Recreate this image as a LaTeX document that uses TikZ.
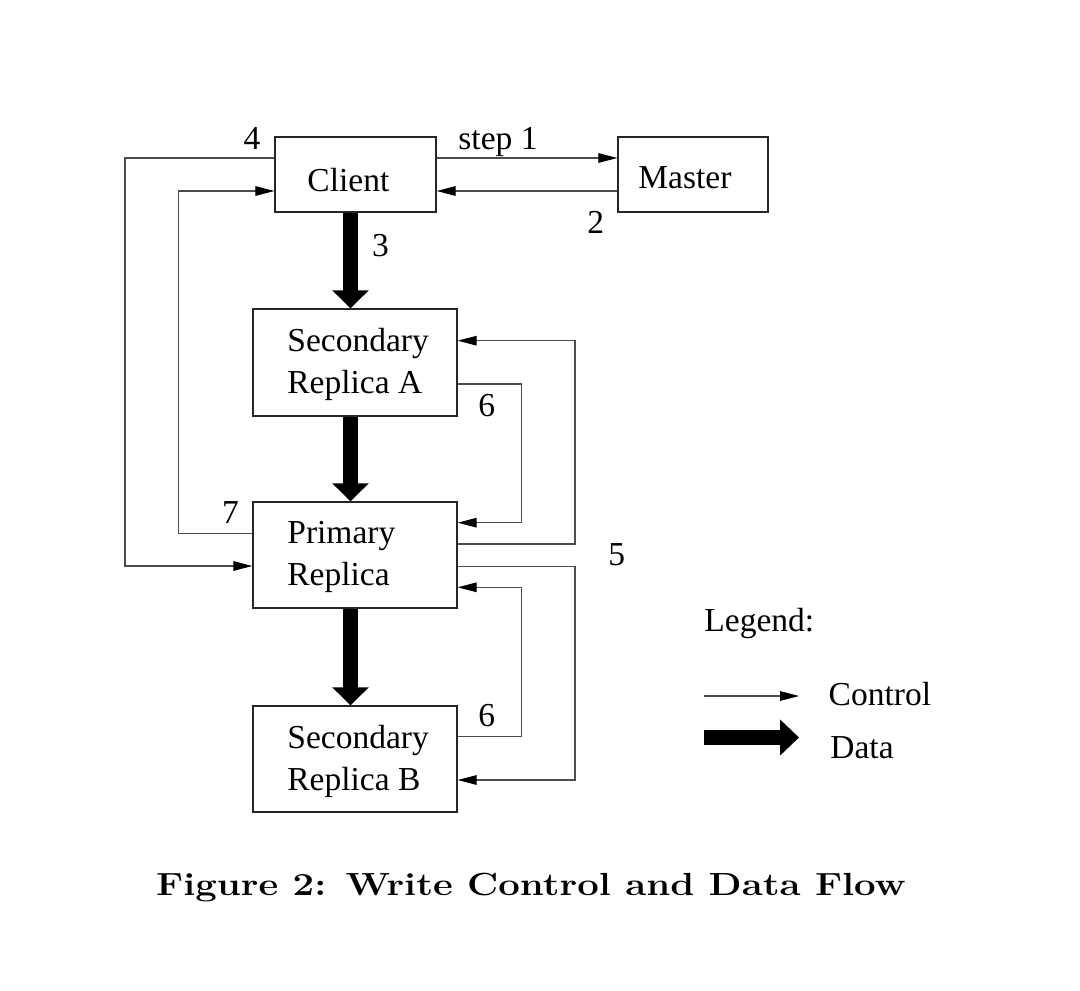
\documentclass[tikz,border=0pt]{standalone}
\usepackage{fontspec}
\usepackage{graphicx}
\newfontfamily\tmsfont{Liberation Serif}
\usetikzlibrary{arrows.meta}
\begin{document}
\begin{tikzpicture}[x=0.5pt,y=-0.5pt,
  box/.style={draw=black!85, line width=0.7pt, inner sep=0pt},
  lbl/.style={inner sep=0pt, anchor=base west, font=\tmsfont\fontsize{16.75}{20}\selectfont},
  ctrl/.style={draw=black!70, line width=0.55pt, -{Triangle[length=9.5pt,width=4.8pt,color=black]}},
  data/.style={draw=black, line width=7.75pt, -{Triangle[length=9pt,width=17.75pt]}},
]
\useasboundingbox (0,0) rectangle (1080,990);

% boxes
\node[box, minimum width=80.5pt, minimum height=37.5pt] (client) at (355.5,174.5) {};
\node[box, minimum width=75pt, minimum height=37.5pt] (master) at (693,174.5) {};
\node[box, minimum width=102pt, minimum height=53.5pt] (seca) at (355,362.5) {};
\node[box, minimum width=102pt, minimum height=53pt] (primary) at (355,555) {};
\node[box, minimum width=102pt, minimum height=53pt] (secb) at (355,759) {};

% box texts
\node[lbl] (tclient) at (307,191.5) {Client};
\node[lbl] (tmaster) at (638,188.5) {Master};
\node[lbl] (tseca1) at (287,351.7) {Secondary};
\node[lbl] (tseca2) at (287,393.3) {Replica A};
\node[lbl] (tprim1) at (287,543.3) {Primary};
\node[lbl] (tprim2) at (287,585) {Replica};
\node[lbl] (tsecb1) at (287,748.3) {Secondary};
\node[lbl] (tsecb2) at (287,790) {Replica B};

% data flow
\draw[data] ([xshift=-2.5pt]client.south) -- ([xshift=-2.5pt]client.south |- seca.north);
\draw[data] ([xshift=-2.25pt]seca.south) -- ([xshift=-2.25pt]seca.south |- primary.north);
\draw[data] ([xshift=-2.25pt]primary.south) -- ([xshift=-2.25pt]primary.south |- secb.north);

% control flow
\draw[ctrl] (client.east |- 0,158) -- (master.west |- 0,158);
\draw[ctrl] (master.west |- 0,191) -- (client.east |- 0,191);
\draw[ctrl] (client.west |- 0,158) -| (125,566) -- (primary.west |- 0,566);
\draw[ctrl] (primary.west |- 0,533.3) -| (178.3,191) -- (client.west |- 0,191);
\draw[ctrl] (seca.east |- 0,384) -| (521.7,522.7) -- (primary.east |- 0,522.7);
\draw[ctrl] (primary.east |- 0,544) -| (575,340.7) -- (seca.east |- 0,340.7);
\draw[ctrl] (primary.east |- 0,566.7) -| (575,780) -- (secb.east |- 0,780);
\draw[ctrl] (secb.east |- 0,736.7) -| (521.7,587.3) -- (primary.east |- 0,587.3);

% step labels
\node[lbl] (lstep1) at (458,149.5) {step 1};
\node[lbl] (l2) at (587,233) {2};
\node[lbl] (l3) at (371.7,256) {3};
\node[lbl] (l4) at (243.3,149.3) {4};
\node[lbl] (l5) at (608,565.7) {5};
\node[lbl] (l6a) at (478,416.7) {6};
\node[lbl] (l6b) at (478,726.7) {6};
\node[lbl] (l7) at (221.7,523.3) {7};

% legend
\node[lbl] (legend) at (704,631) {Legend:};
\coordinate (c0) at (704,696);
\coordinate (c1) at (799,696);
\draw[ctrl] (c0) -- (c1);
\node[lbl] (lcontrol) at (828.3,705) {Control};
\coordinate (d0) at (704,737.5);
\coordinate (d1) at (799,737.5);
\draw[data, line width=7.5pt, -{Triangle[length=9.5pt,width=17.5pt]}] (d0) -- (d1);
\node[lbl] (ldata) at (830,758.3) {Data};

% caption
\node[inner sep=0pt, anchor=base] (cap) at (531,895) {\scalebox{1.2}[1]{\bfseries\fontsize{16}{19}\selectfont Figure 2: Write Control and Data Flow}};
\end{tikzpicture}
\end{document}
